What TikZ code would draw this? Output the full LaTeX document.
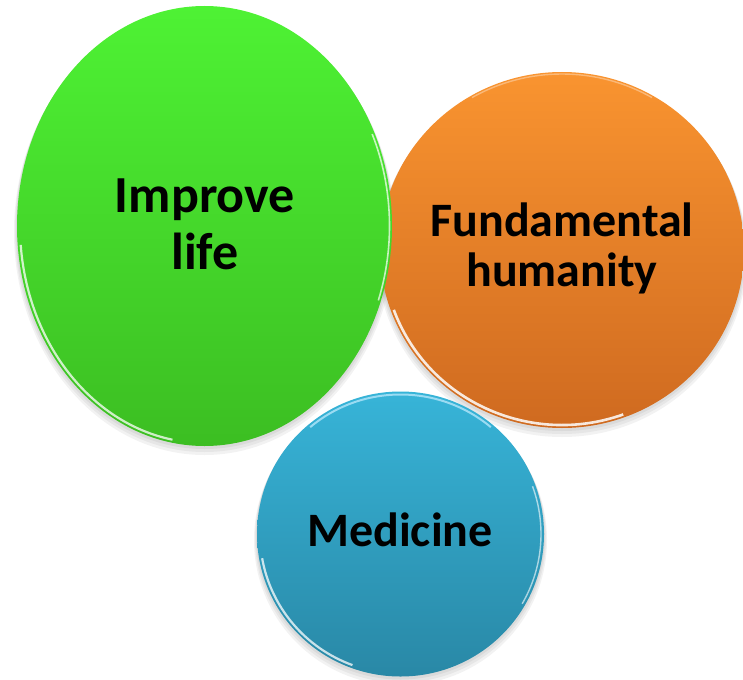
\documentclass[tikz,border=0pt]{standalone}
\usepackage{fontspec}
\setmainfont{Carlito}
\usetikzlibrary{shapes.geometric}
\definecolor{gTop}{HTML}{4EF234}
\definecolor{gBot}{HTML}{3CBE22}
\definecolor{oTop}{HTML}{F99430}
\definecolor{oBot}{HTML}{CF6A20}
\definecolor{bTop}{HTML}{37B4D8}
\definecolor{bBot}{HTML}{2988A6}
\tikzset{
  lbl/.style={font=\bfseries\fontsize{48}{54}\selectfont, text=black, inner sep=0pt, anchor=base},
  bigl/.style={font=\bfseries\fontsize{52}{58}\selectfont, text=black, inner sep=0pt, anchor=base},
  rim/.style={white, line width=2.2pt, opacity=0.75},
  shad/.style={black, opacity=0.05}
}
\begin{document}
\begin{tikzpicture}[x=1pt,y=-1pt]
\useasboundingbox (0,0) rectangle (743,679);
% shadows
\foreach \d in {2,4,6}{
  \fill[shad] (562,{250+\d}) ellipse [x radius={182+\d/2}, y radius={178+\d/2}];
  \fill[shad] (204.5,{226+\d}) ellipse [x radius={187.5+\d/2}, y radius={220+\d/2}];
  \fill[shad] (400.5,{534+\d}) ellipse [x radius={143.5+\d/2}, y radius={142.5+\d/2}];
}
% orange
\shade[top color=oTop, bottom color=oBot] (562,250) ellipse [x radius=182, y radius=178];
\draw[rim, line width=2.6pt, opacity=0.85] (562,250) ++(-200:179 and 175) arc [start angle=-200, end angle=-290, x radius=179, y radius=175];
\draw[oTop!50!white, line width=1.4pt, opacity=0.7] (562,250) ++(-60:180 and 176) arc [start angle=-60, end angle=-120, x radius=180, y radius=176];
% green
\shade[top color=gTop, bottom color=gBot] (204.5,226) ellipse [x radius=187.5, y radius=220];
\draw[rim] (204.5,226) ++(-185:184.5 and 217) arc [start angle=-185, end angle=-260, x radius=184.5, y radius=217];
\draw[white, line width=1.6pt, opacity=0.7] (204.5,226) ++(20:185 and 217.5) arc [start angle=20, end angle=-25, x radius=185, y radius=217.5];
% blue
\shade[top color=bTop, bottom color=bBot] (400.5,534) ellipse [x radius=143.5, y radius=142.5];
\draw[cyan!30!white, line width=2pt, opacity=0.8] (400.5,534) ++(-50:140.5 and 139.5) arc [start angle=-50, end angle=-130, x radius=140.5, y radius=139.5];
\draw[rim] (400.5,534) ++(-190:140.5 and 139.5) arc [start angle=-190, end angle=-250, x radius=140.5, y radius=139.5];
\draw[white, line width=1.4pt, opacity=0.6] (400.5,534) ++(30:140.5 and 139.5) arc [start angle=30, end angle=-20, x radius=140.5, y radius=139.5];
% labels
\node[bigl] (improve) at (205,212) {Improve};
\node[bigl] (life) at (205,269) {life};
\node[lbl] (fund) at (562,236) {Fundamental};
\node[lbl] (hum) at (562,286) {humanity};
\node[lbl] (med) at (400,546) {Medicine};
\end{tikzpicture}
\end{document}
